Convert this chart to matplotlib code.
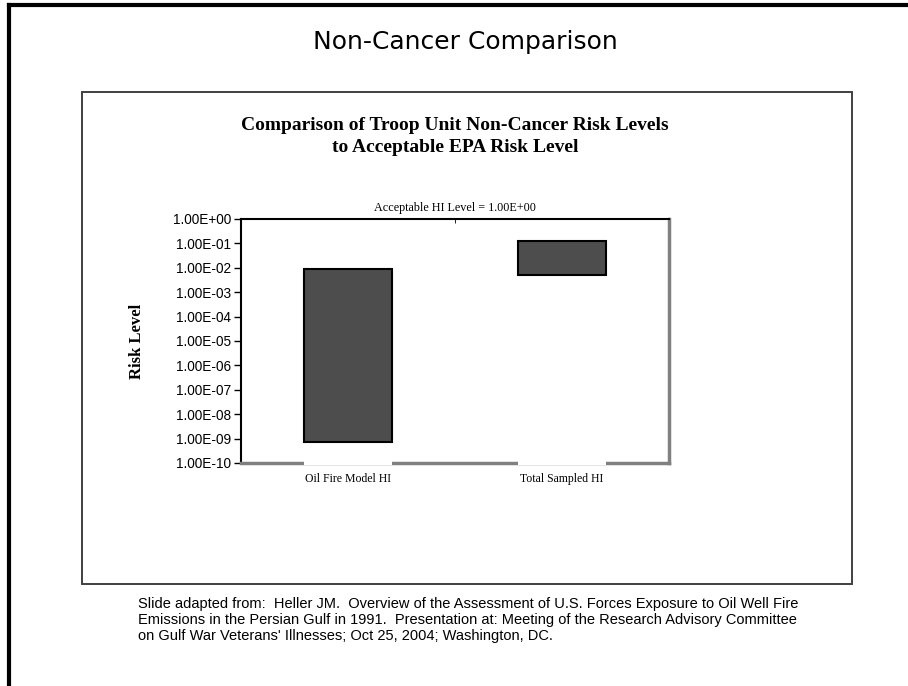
import numpy as np
import matplotlib
matplotlib.use("Agg")
import matplotlib.pyplot as plt
from matplotlib.ticker import FixedLocator, FuncFormatter

# data (floating bars on a log axis)
categories = ["Oil Fire Model HI", "Total Sampled HI"]
low_values = [7.2e-10, 5.0e-3]
high_values = [9.0e-3, 1.3e-1]
tick_exponents = list(range(-10, 1))

fig = plt.figure(figsize=(9.08, 6.86), dpi=100)
fig.patch.set_facecolor("white")

# slide frame (top and left edges) and inner chart box
fig.add_artist(plt.Line2D([9 / 908, 9 / 908], [0, 1 - 5 / 686], color="black", lw=3, transform=fig.transFigure))
fig.add_artist(plt.Line2D([9 / 908, 1], [1 - 5 / 686, 1 - 5 / 686], color="black", lw=3, transform=fig.transFigure))
fig.add_artist(plt.Rectangle((82 / 908, 1 - 584 / 686), (852 - 82) / 908, (584 - 92) / 686,
                             fill=False, ec="#404040", lw=1.4, transform=fig.transFigure))

fig.text(465 / 908, 1 - 42 / 686, "Non-Cancer Comparison", ha="center", va="center",
         fontsize=18, family="DejaVu Sans")
fig.text(455 / 908, 1 - 125 / 686, "Comparison of Troop Unit Non-Cancer Risk Levels",
         ha="center", va="center", fontsize=14, family="Liberation Serif", weight="bold")
fig.text(455 / 908, 1 - 148 / 686, "to Acceptable EPA Risk Level",
         ha="center", va="center", fontsize=14, family="Liberation Serif", weight="bold")

ax = fig.add_axes([241 / 908, 1 - 463 / 686, (669 - 241) / 908, (463 - 219) / 686])
x = np.arange(len(categories))
width = 0.41
heights = [h - l for h, l in zip(high_values, low_values)]
ax.bar(x, heights, width=width, bottom=low_values, color="#4d4d4d", edgecolor="black", lw=1.5, zorder=3)

ax.set_yscale("log")
ax.set_ylim(1e-10, 1)
ax.set_xlim(-0.5, len(categories) - 0.5)
ax.yaxis.set_major_locator(FixedLocator([10.0 ** e for e in tick_exponents]))
ax.yaxis.set_minor_locator(FixedLocator([]))
ax.yaxis.set_major_formatter(FuncFormatter(lambda v, p: "1.00E%+03d" % round(np.log10(v))))
ax.tick_params(axis="y", direction="out", length=5, width=1, labelsize=9.8, pad=2)
for lab in ax.get_yticklabels():
    lab.set_family("Liberation Sans")

ax.set_xticks(x)
ax.set_xticklabels(categories, family="Liberation Serif", fontsize=8.5)
ax.tick_params(axis="x", length=0, pad=7)
ax.set_xticks([0.5], minor=True)
ax.tick_params(axis="x", which="minor", top=True, bottom=False, direction="in", length=3)

ax.spines["left"].set_color("black")
ax.spines["left"].set_linewidth(1.5)
ax.spines["top"].set_color("black")
ax.spines["top"].set_linewidth(1.5)
ax.spines["right"].set_color("#808080")
ax.spines["right"].set_linewidth(2.5)
ax.spines["bottom"].set_color("#808080")
ax.spines["bottom"].set_linewidth(2.5)
# white gaps in the baseline under each category
ax.hlines([1e-10] * len(x), x - width / 2, x + width / 2, colors="white", lw=3, zorder=5, clip_on=False)

ax.set_title("Acceptable HI Level = 1.00E+00", family="Liberation Serif", fontsize=8.7, pad=6)
ax.set_ylabel("Risk Level", family="Liberation Serif", fontsize=12, weight="bold", labelpad=20)

footer = ("Slide adapted from:  Heller JM.  Overview of the Assessment of U.S. Forces Exposure to Oil Well Fire\n"
          "Emissions in the Persian Gulf in 1991.  Presentation at: Meeting of the Research Advisory Committee\n"
          "on Gulf War Veterans' Illnesses; Oct 25, 2004; Washington, DC.")
fig.text(138 / 908, 1 - 597 / 686, footer, ha="left", va="top", fontsize=10.5,
         family="Liberation Sans", linespacing=1.2)

fig.savefig("out.png", dpi=100)
